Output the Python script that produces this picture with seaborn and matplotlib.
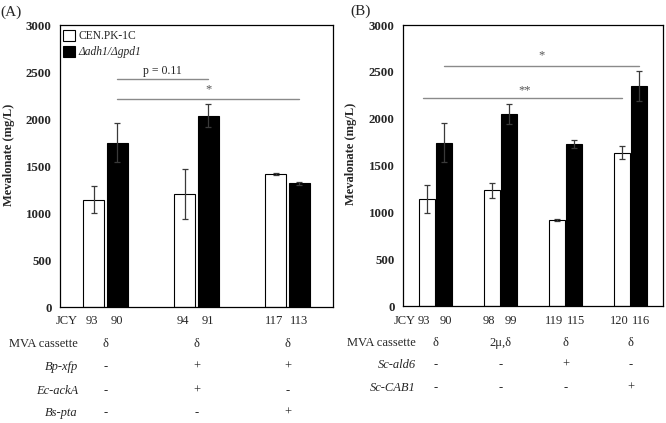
import matplotlib
matplotlib.use("Agg")
import matplotlib.pyplot as plt
import seaborn as sns
import pandas as pd
from matplotlib.patches import Patch

# ---------------- data ----------------
hue_levels = ["CEN.PK-1C", "Δadh1/Δgpd1"]

# Panel A
groups_A = ["g1", "g2", "g3"]
A_white = [1140, 1200, 1415]
A_white_err = [145, 265, 15]
A_black = [1750, 2035, 1315]
A_black_err = [210, 125, 20]
A_white_ids = ["93", "94", "117"]
A_black_ids = ["90", "91", "113"]
A_rows = ["MVA cassette", "Bp-xfp", "Ec-ackA", "Bs-pta"]
A_row_vals = [["δ", "δ", "δ"], ["-", "+", "+"], ["-", "+", "-"], ["-", "-", "+"]]

# Panel B
groups_B = ["g1", "g2", "g3", "g4"]
B_white = [1145, 1238, 915, 1637]
B_white_err = [150, 80, 12, 70]
B_black = [1745, 2050, 1729, 2349]
B_black_err = [212, 103, 45, 157]
B_white_ids = ["93", "98", "119", "120"]
B_black_ids = ["90", "99", "115", "116"]
B_rows = ["MVA cassette", "Sc-ald6", "Sc-CAB1"]
B_row_vals = [["δ", "2μ,δ", "δ", "δ"], ["-", "-", "+", "-"], ["-", "-", "-", "+"]]

yticks = [0, 500, 1000, 1500, 2000, 2500, 3000]

# ---------------- style ----------------
sns.set_theme(style="white")
plt.rcParams["font.family"] = ["Liberation Serif", "DejaVu Serif"]

W, H = 666, 423
fig = plt.figure(figsize=(W / 100, H / 100), dpi=100)

def fx(px):
    return px / W

def fy(py):
    return 1 - py / H

axA = fig.add_axes([fx(60), fy(307), fx(273), 282 / H])
axB = fig.add_axes([fx(403), fy(306), fx(260), 281 / H])

palette = {hue_levels[0]: "white", hue_levels[1]: "black"}


def make_df(groups, white, black):
    return pd.DataFrame({
        "group": groups * 2,
        "strain": [hue_levels[0]] * len(groups) + [hue_levels[1]] * len(groups),
        "value": white + black,
    })


def draw_panel(ax, groups, white, werr, black, berr, width, gap, xlim):
    df = make_df(groups, white, black)
    sns.barplot(data=df, x="group", y="value", hue="strain", hue_order=hue_levels,
                palette=palette, edgecolor="black", linewidth=0.8, width=width,
                gap=gap, errorbar=None, legend=False, ax=ax)
    centers = []
    for cont, err in zip(ax.containers, [werr, berr]):
        xs = [p.get_x() + p.get_width() / 2 for p in cont.patches]
        ys = [p.get_height() for p in cont.patches]
        centers.append(xs)
        ax.errorbar(xs, ys, yerr=err, fmt="none", ecolor="#3a3a3a",
                    elinewidth=0.9, capsize=2.5, capthick=0.9, zorder=5)
    ax.set_xlim(*xlim)
    ax.set_ylim(0, 3000)
    ax.set_yticks(yticks)
    ax.set_yticklabels([str(t) for t in yticks], fontsize=9.3, fontweight="bold")
    ax.set_xticks([])
    ax.set_xlabel("")
    ax.set_ylabel("Mevalonate (mg/L)", fontsize=9, fontweight="bold")
    ax.tick_params(axis="y", length=0, pad=6)
    for s in ax.spines.values():
        s.set_visible(True)
        s.set_color("black")
        s.set_linewidth(0.9)
    return centers


cA = draw_panel(axA, groups_A, A_white, A_white_err, A_black, A_black_err,
                0.52, 0.11, (-0.5, 2.5))
cB = draw_panel(axB, groups_B, B_white, B_white_err, B_black, B_black_err,
                0.52, 0.06, (-0.5, 3.5))

axA.yaxis.set_label_coords(-0.165, 0.54)
axB.yaxis.set_label_coords(-0.177, 0.54)

# panel labels
fig.text(fx(0), fy(12), "(A)", fontsize=11, ha="left", va="center")
fig.text(fx(350), fy(11), "(B)", fontsize=11, ha="left", va="center")

# legend in panel A
handles = [Patch(facecolor="white", edgecolor="black", linewidth=0.8),
           Patch(facecolor="black", edgecolor="black", linewidth=0.8)]
leg = axA.legend(handles, hue_levels, loc="upper left", bbox_to_anchor=(-0.018, 1.012),
                 frameon=False, fontsize=8.3, handlelength=1.05, handleheight=1.15,
                 handletextpad=0.25, labelspacing=0.3, borderaxespad=0.3)
leg.get_texts()[1].set_fontstyle("italic")

# significance marks
sig_col = "#8a8a8a"
axA.plot([cA[1][0], cA[1][1]], [2430, 2430], color=sig_col, lw=1.0)
axA.text((cA[1][0] + cA[1][1]) / 2, 2450, "p = 0.11", ha="center", va="bottom", fontsize=8.5)
axA.plot([cA[1][0], cA[1][2]], [2215, 2215], color=sig_col, lw=1.0)
axA.text((cA[1][0] + cA[1][2]) / 2, 2255, "*", ha="center", va="bottom", fontsize=9, color="#555555")

axB.plot([cB[1][0], cB[1][3]], [2562, 2562], color=sig_col, lw=1.0)
axB.text((cB[1][0] + cB[1][3]) / 2, 2610, "*", ha="center", va="bottom", fontsize=9, color="#555555")
axB.plot([cB[0][0] - 0.07, cB[0][3]], [2224, 2224], color=sig_col, lw=1.0)
axB.text((cB[0][0] + cB[0][3]) / 2, 2240, "**", ha="center", va="bottom", fontsize=9, color="#555555")


# table below axes
def draw_table(ax, centers, wids, bids, rows, rowvals, label_px, jcy_py, row_pys,
               fs=9, wshift=0.0, bshift=0.0):
    tr = ax.get_xaxis_transform()
    bottom_px = (1 - ax.get_position().y0) * H
    height_px = ax.get_position().height * H

    def ay(py):
        return (bottom_px - py) / height_px

    fig.text(fx(label_px), fy(jcy_py), "JCY", ha="right", va="center", fontsize=fs)
    for x, s in zip(centers[0], wids):
        ax.text(x + wshift, ay(jcy_py), s, transform=tr, ha="center", va="center", fontsize=fs)
    for x, s in zip(centers[1], bids):
        ax.text(x + bshift, ay(jcy_py), s, transform=tr, ha="center", va="center", fontsize=fs)
    for i, (lab, vals) in enumerate(zip(rows, rowvals)):
        py = row_pys[i]
        fig.text(fx(label_px), fy(py), lab, ha="right", va="center", fontsize=fs,
                 fontstyle="normal" if i == 0 else "italic")
        for g, v in enumerate(vals):
            ax.text(g, ay(py), v, transform=tr, ha="center", va="center", fontsize=fs)


draw_table(axA, cA, A_white_ids, A_black_ids, A_rows, A_row_vals,
           78, 321, [344, 367, 391, 413], wshift=-0.02, bshift=0.0)
draw_table(axB, cB, B_white_ids, B_black_ids, B_rows, B_row_vals,
           416, 321, [343, 365, 388], wshift=-0.05, bshift=0.03)

fig.savefig("out.png", dpi=100)
